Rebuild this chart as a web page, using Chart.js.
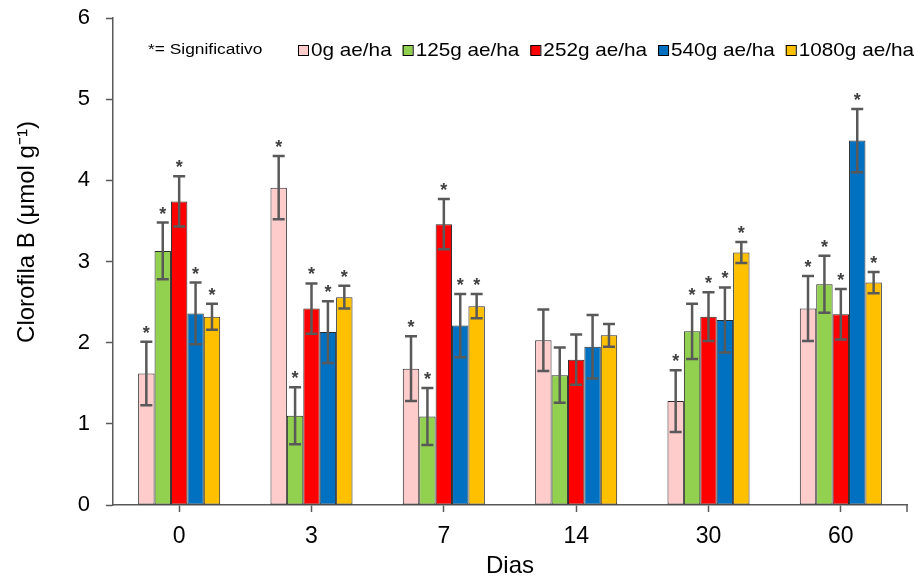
<!DOCTYPE html>
<html>
<head>
<meta charset="utf-8">
<script src="https://cdn.jsdelivr.net/npm/chart.js@4/dist/chart.umd.min.js"></script>
<style>
  html, body { margin: 0; padding: 0; background: #ffffff; }
  #wrap { width: 923px; height: 578px; }
</style>
</head>
<body>
<div id="wrap"><canvas id="c" width="923" height="578"></canvas></div>
<script>
// Days after application
const dias = ['0', '3', '7', '14', '30', '60'];
const doses = ['0g ae/ha', '125g ae/ha', '252g ae/ha', '540g ae/ha', '1080g ae/ha'];

// Mean chlorophyll b per dose (µmol g-1)
const dose0    = [1.62, 3.91, 1.68, 2.03, 1.28, 2.42];
const dose125  = [3.13, 1.10, 1.09, 1.60, 2.14, 2.72];
const dose252  = [3.74, 2.42, 3.46, 1.79, 2.32, 2.35];
const dose540  = [2.36, 2.13, 2.21, 1.95, 2.28, 4.49];
const dose1080 = [2.32, 2.56, 2.45, 2.09, 3.11, 2.74];

// Standard error per dose
const err0    = [0.39, 0.39, 0.40, 0.38, 0.38, 0.40];
const err125  = [0.35, 0.35, 0.35, 0.34, 0.34, 0.35];
const err252  = [0.31, 0.31, 0.31, 0.31, 0.30, 0.31];
const err540  = [0.38, 0.38, 0.39, 0.39, 0.40, 0.39];
const err1080 = [0.16, 0.14, 0.15, 0.14, 0.13, 0.13];

// Significance flags (1 = significant)
const sig0    = [1, 1, 1, 0, 1, 1];
const sig125  = [1, 1, 1, 0, 1, 1];
const sig252  = [1, 1, 1, 0, 1, 1];
const sig540  = [1, 1, 1, 0, 1, 1];
const sig1080 = [1, 1, 1, 0, 1, 1];

const yTicks = [0, 1, 2, 3, 4, 5, 6];
const notaSignificancia = '*= Significativo';
const tituloY = 'Clorofila B (μmol g⁻¹)';

const cores = ['#FFCCCC', '#92D050', '#FF0000', '#0070C0', '#FFC000'];
const valores = [dose0, dose125, dose252, dose540, dose1080];
const erros = [err0, err125, err252, err540, err1080];
const sigs = [sig0, sig125, sig252, sig540, sig1080];

const FONT = "'Liberation Sans', Arial, sans-serif";
const AXIS = '#595959';

const datasets = doses.map((d, i) => ({
  label: d,
  data: valores[i],
  backgroundColor: cores[i],
  borderColor: '#2b2b2b',
  borderWidth: 1,
  borderSkipped: false,
  errors: erros[i],
  signif: sigs[i]
}));

// Error bars and significance stars
const errorBars = {
  id: 'errorBars',
  afterDatasetsDraw(chart) {
    const ctx = chart.ctx;
    const ys = chart.scales.y;
    chart.data.datasets.forEach((ds, di) => {
      const meta = chart.getDatasetMeta(di);
      meta.data.forEach((bar, i) => {
        const v = ds.data[i], e = ds.errors[i];
        const yHi = ys.getPixelForValue(v + e);
        const yLo = ys.getPixelForValue(v - e);
        const x = bar.x;
        ctx.save();
        ctx.strokeStyle = AXIS;
        ctx.lineWidth = 2.5;
        ctx.beginPath();
        ctx.moveTo(x, yLo); ctx.lineTo(x, yHi);
        ctx.moveTo(x - 6, yHi); ctx.lineTo(x + 6, yHi);
        ctx.moveTo(x - 6, yLo); ctx.lineTo(x + 6, yLo);
        ctx.stroke();
        if (ds.signif[i]) {
          ctx.fillStyle = '#404040';
          ctx.font = 'bold 18px ' + FONT;
          ctx.textAlign = 'center';
          ctx.textBaseline = 'alphabetic';
          ctx.fillText('*', x, yHi - 3);
        }
        ctx.restore();
      });
    });
  }
};

// Legend row, y-axis title and closing tick at the axis end
const legendRow = {
  id: 'legendRow',
  afterDraw(chart) {
    const ctx = chart.ctx;
    const xs = chart.scales.x;
    ctx.save();
    ctx.strokeStyle = AXIS;
    ctx.lineWidth = 1.5;
    ctx.beginPath();
    ctx.moveTo(xs.right, chart.chartArea.bottom);
    ctx.lineTo(xs.right, chart.chartArea.bottom + 7);
    ctx.stroke();

    // y-axis title
    ctx.save();
    ctx.translate(27, 232);
    ctx.rotate(-Math.PI / 2);
    ctx.fillStyle = '#000';
    ctx.font = '24px ' + FONT;
    ctx.textAlign = 'center';
    ctx.textBaseline = 'middle';
    ctx.fillText(tituloY, 0, 0);
    ctx.restore();

    const cy = 50;
    const sx = 1.12;
    ctx.fillStyle = '#000';
    ctx.textBaseline = 'middle';
    ctx.textAlign = 'left';
    ctx.font = '15.5px ' + FONT;
    ctx.save();
    ctx.translate(148, cy);
    ctx.scale(sx, 1);
    ctx.fillText(notaSignificancia, 0, 0);
    ctx.restore();

    let x = 298;
    ctx.font = '18.5px ' + FONT;
    chart.data.datasets.forEach((ds) => {
      ctx.fillStyle = ds.backgroundColor;
      ctx.fillRect(x, cy - 5, 10, 10);
      ctx.strokeStyle = '#000';
      ctx.lineWidth = 1;
      ctx.strokeRect(x + 0.5, cy - 4.5, 10, 10);
      ctx.fillStyle = '#000';
      const tx = x + 13;
      ctx.save();
      ctx.translate(tx, cy + 1);
      ctx.scale(sx, 1);
      ctx.fillText(ds.label, 0, 0);
      ctx.restore();
      x = tx + ctx.measureText(ds.label).width * sx + 11;
    });
    ctx.restore();
  }
};

new Chart(document.getElementById('c'), {
  type: 'bar',
  data: { labels: dias, datasets: datasets },
  options: {
    responsive: false,
    animation: false,
    devicePixelRatio: 1,
    layout: { padding: { top: 18, right: 16, left: 0, bottom: 0 } },
    plugins: {
      legend: { display: false },
      tooltip: { enabled: false }
    },
    datasets: {
      bar: { categoryPercentage: 0.62, barPercentage: 1.0 }
    },
    scales: {
      x: {
        grid: { display: true, drawOnChartArea: false, offset: false, color: AXIS, tickLength: 7, tickWidth: 1.5 },
        border: { display: true, color: AXIS, width: 1.5 },
        ticks: { color: '#000', font: { family: FONT, size: 23 }, padding: 11 },
        title: { display: true, text: 'Dias', color: '#000', font: { family: FONT, size: 24, lineHeight: 1 }, padding: { top: 0, bottom: 0 } },
        afterFit(scale) { scale.height = 73; }
      },
      y: {
        min: 0, max: 6,
        afterBuildTicks(scale) { scale.ticks = yTicks.map(v => ({ value: v })); },
        grid: { display: true, drawOnChartArea: false, color: AXIS, tickLength: 7, tickWidth: 1.5 },
        border: { display: true, color: AXIS, width: 1.5 },
        ticks: { color: '#000', font: { family: FONT, size: 22 }, padding: 16 },
        afterFit(scale) {
          scale.width = 113;
          scale.paddingTop = 0;
          scale.paddingBottom = 0;
        }
      }
    }
  },
  plugins: [errorBars, legendRow]
});
</script>
</body>
</html>
